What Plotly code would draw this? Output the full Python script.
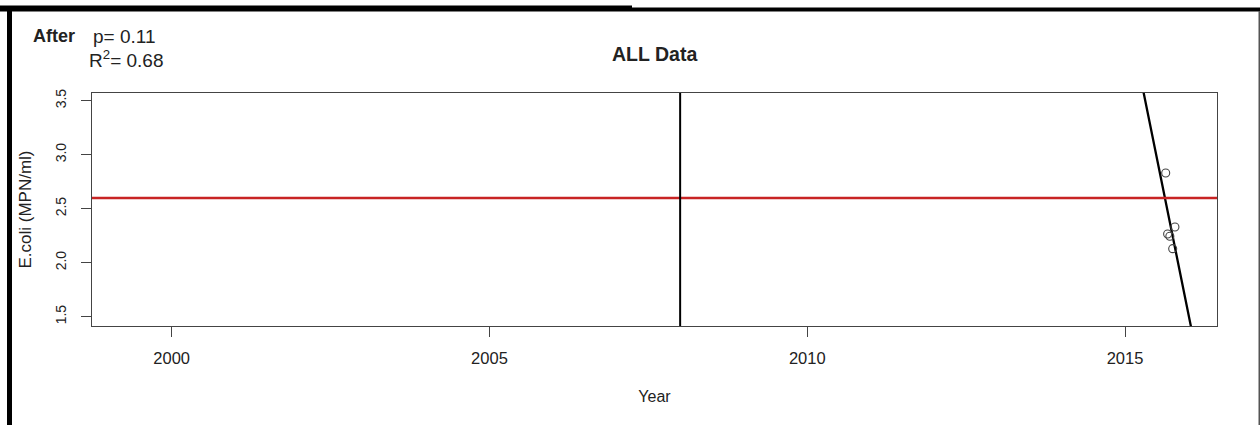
import numpy as np
import plotly.graph_objects as go

# Observations after the 2008 break
YEARS = [2015.64, 2015.67, 2015.705, 2015.75, 2015.785]
ECOLI = [2.83, 2.265, 2.245, 2.13, 2.33]

BREAK_YEAR = 2008
THRESHOLD = 2.6
P_VALUE = 0.11
R_SQUARED = 0.68

X_TICKS = [2000, 2005, 2010, 2015]
Y_TICKS = [1.5, 2.0, 2.5, 3.0, 3.5]
X_RANGE = [1998.746, 2016.447]
Y_RANGE = [1.414, 3.571]

W, H = 1260, 425
ML, MR, MT, MB = 92, 43, 93, 99
PW, PH = W - ML - MR, H - MT - MB


def px_x(px):
    return (px - ML) / PW


def px_y(py):
    return (H - MB - py) / PH


FONT = "Liberation Sans, Arial, sans-serif"
INK = "#222222"

# least-squares trend through the observations
slope, intercept = np.polyfit(YEARS, ECOLI, 1)
fit_x = np.array(X_RANGE)
fit_y = slope * fit_x + intercept

fig = go.Figure()

fig.add_trace(go.Scatter(
    x=fit_x, y=fit_y, mode="lines",
    line=dict(color="black", width=2.3),
    showlegend=False, hoverinfo="skip",
))
fig.add_trace(go.Scatter(
    x=YEARS, y=ECOLI, mode="markers",
    marker=dict(symbol="circle-open", size=8, color="#444444",
                line=dict(width=1.1, color="#444444")),
    showlegend=False, cliponaxis=True,
))

fig.add_hline(y=THRESHOLD, line=dict(color="#c82424", width=2.5), layer="above")
fig.add_vline(x=BREAK_YEAR, line=dict(color="black", width=2), layer="above")

axis_common = dict(
    showgrid=False, zeroline=False,
    showline=True, mirror=True, linecolor="#444444", linewidth=1,
    ticks="outside", ticklen=10, tickcolor="#444444", tickwidth=1,
)

fig.update_xaxes(
    range=X_RANGE, tickvals=X_TICKS, ticktext=[str(v) for v in X_TICKS],
    tickfont=dict(family=FONT, size=16.5, color=INK),
    ticklabelstandoff=7,
    title=dict(text="Year", font=dict(family=FONT, size=16, color=INK), standoff=25),
    **axis_common,
)
fig.update_yaxes(
    range=Y_RANGE, tickvals=Y_TICKS, ticktext=[f"{v:.1f}" for v in Y_TICKS],
    tickangle=-90,
    tickfont=dict(family=FONT, size=14, color=INK),
    ticklabelstandoff=9,
    title=dict(text="E.coli (MPN/ml)", font=dict(family=FONT, size=17, color=INK), standoff=17),
    **axis_common,
)

annotations = [
    dict(text="<b>ALL Data</b>", x=px_x(654.5), y=px_y(53.5),
         font=dict(family=FONT, size=19.5, color=INK), xanchor="center", yanchor="middle"),
    dict(text="<b>After</b>", x=px_x(31), y=px_y(36),
         font=dict(family=FONT, size=18, color=INK), xanchor="left", yanchor="middle"),
    dict(text=f"p= {P_VALUE:.2f}", x=px_x(91), y=px_y(36.5),
         font=dict(family=FONT, size=19, color=INK), xanchor="left", yanchor="middle"),
    dict(text=f"R<sup>2</sup>= {R_SQUARED:.2f}", x=px_x(86.5), y=px_y(58.5),
         font=dict(family=FONT, size=19, color=INK), xanchor="left", yanchor="middle"),
]
for a in annotations:
    a.update(xref="paper", yref="paper", showarrow=False)

# page frame: heavy rule along the top and left edge, thin rule on the right
frame = [
    dict(x0=px_x(0), x1=px_x(632), y0=px_y(11.5), y1=px_y(5.5), fillcolor="black"),
    dict(x0=px_x(632), x1=px_x(1260), y0=px_y(11.5), y1=px_y(7.5), fillcolor="black"),
    dict(x0=px_x(7), x1=px_x(12), y0=px_y(425), y1=px_y(6), fillcolor="black"),
    dict(x0=px_x(1258.5), x1=px_x(1260), y0=px_y(425), y1=px_y(11), fillcolor="#555555"),
]
for s in frame:
    s.update(type="rect", xref="paper", yref="paper", line=dict(width=0), layer="above")

fig.update_layout(
    width=W, height=H,
    margin=dict(l=ML, r=MR, t=MT, b=MB, autoexpand=False),
    paper_bgcolor="white", plot_bgcolor="white",
    font=dict(family=FONT, color=INK),
    annotations=annotations, shapes=list(fig.layout.shapes) + frame,
    showlegend=False,
)

fig.write_html("out.html", config={"displayModeBar": False})
